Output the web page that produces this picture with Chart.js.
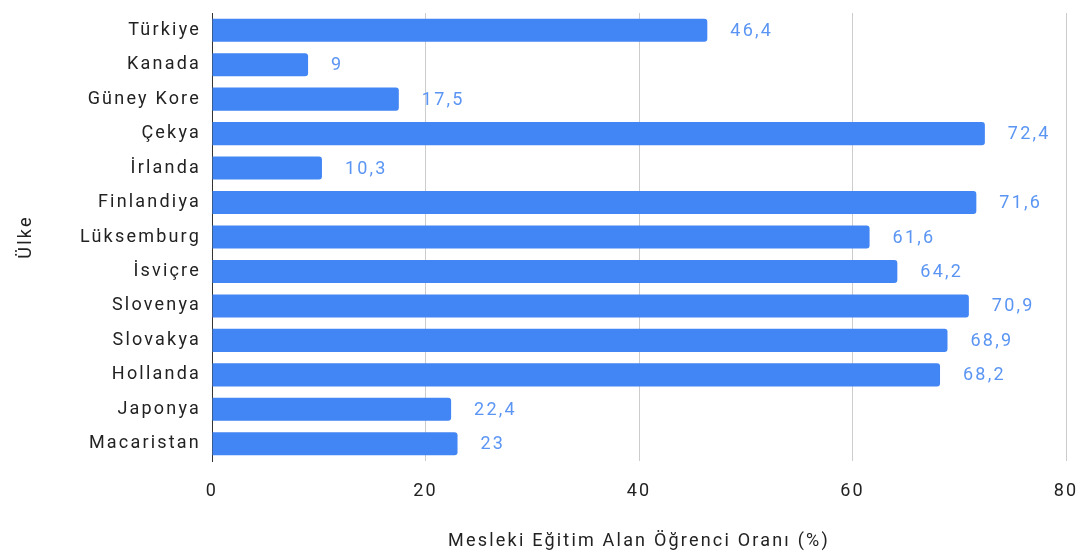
<!DOCTYPE html>
<html>
<head>
<meta charset="utf-8">
<script src="https://cdn.jsdelivr.net/npm/chart.js@4"></script>
<style>
  html, body { margin: 0; padding: 0; background: #fff; }
  #wrap { width: 1085px; height: 555px; }
</style>
</head>
<body>
<div id="wrap"><canvas id="barChart"></canvas></div>
<script>
const countries = ['Türkiye', 'Kanada', 'Güney Kore', 'Çekya', 'İrlanda', 'Finlandiya', 'Lüksemburg',
    'İsviçre', 'Slovenya', 'Slovakya', 'Hollanda', 'Japonya', 'Macaristan'];
const shares = [46.4, 9, 17.5, 72.4, 10.3, 71.6, 61.6, 64.2, 70.9, 68.9, 68.2, 22.4, 23];
const xTicks = [0, 20, 40, 60, 80];

const SPACING = '2.2px';

// the reference text is set wide, so add letter spacing to the canvas
const wideText = {
    id: 'wideText',
    beforeUpdate(chart) { chart.ctx.letterSpacing = SPACING; },
    beforeDraw(chart) { chart.ctx.letterSpacing = SPACING; }
};

// value labels to the right of each bar, Turkish decimal comma
const barLabels = {
    id: 'barLabels',
    afterDatasetsDraw(chart) {
        const ctx = chart.ctx;
        const meta = chart.getDatasetMeta(0);
        ctx.save();
        ctx.letterSpacing = SPACING;
        ctx.font = '18px Roboto';
        ctx.fillStyle = '#5b95f3';
        ctx.textBaseline = 'middle';
        meta.data.forEach((bar, i) => {
            ctx.fillText(String(shares[i]).replace('.', ','), bar.x + 23, bar.y + 1);
        });
        ctx.restore();
    }
};

new Chart(document.getElementById('barChart'), {
    type: 'bar',
    data: {
        labels: countries,
        datasets: [{
            data: shares,
            backgroundColor: '#4285f4',
            borderRadius: { topRight: 3, bottomRight: 3 },
            borderSkipped: 'left',
            categoryPercentage: 0.67, barPercentage: 1
        }]
    },
    options: {
        indexAxis: 'y',
        responsive: true, maintainAspectRatio: false,
        animation: false,
        layout: { padding: { left: 0, right: 19, top: 13, bottom: 0 } },
        scales: {
            x: {
                min: 0, max: 80,
                afterBuildTicks: s => { s.ticks = xTicks.map(v => ({ value: v })); },
                afterFit: s => { s.height = 94; s.paddingLeft = 0; s.paddingRight = 0; },
                grid: { color: '#cccccc', drawTicks: false },
                border: { display: false },
                ticks: { padding: 20, font: { family: 'Roboto', size: 18 }, color: '#222222' },
                title: {
                    display: true, text: 'Mesleki Eğitim Alan Öğrenci Oranı (%)',
                    font: { family: 'Roboto', size: 18 }, color: '#222222',
                    padding: { top: 0, bottom: 3 }
                }
            },
            y: {
                afterFit: s => { s.width = 212; s.paddingTop = 0; s.paddingBottom = 0; },
                grid: { display: false },
                border: { display: true, color: '#333333', width: 1 },
                ticks: { padding: 3, font: { family: 'Roboto', size: 18 }, color: '#222222' },
                title: {
                    display: true, text: 'Ülke',
                    font: { family: 'Roboto', size: 18 }, color: '#222222',
                    padding: { top: 16, bottom: 0 }
                }
            }
        },
        plugins: {
            legend: { display: false },
            tooltip: { enabled: false }
        }
    },
    plugins: [wideText, barLabels]
});
</script>
</body>
</html>
